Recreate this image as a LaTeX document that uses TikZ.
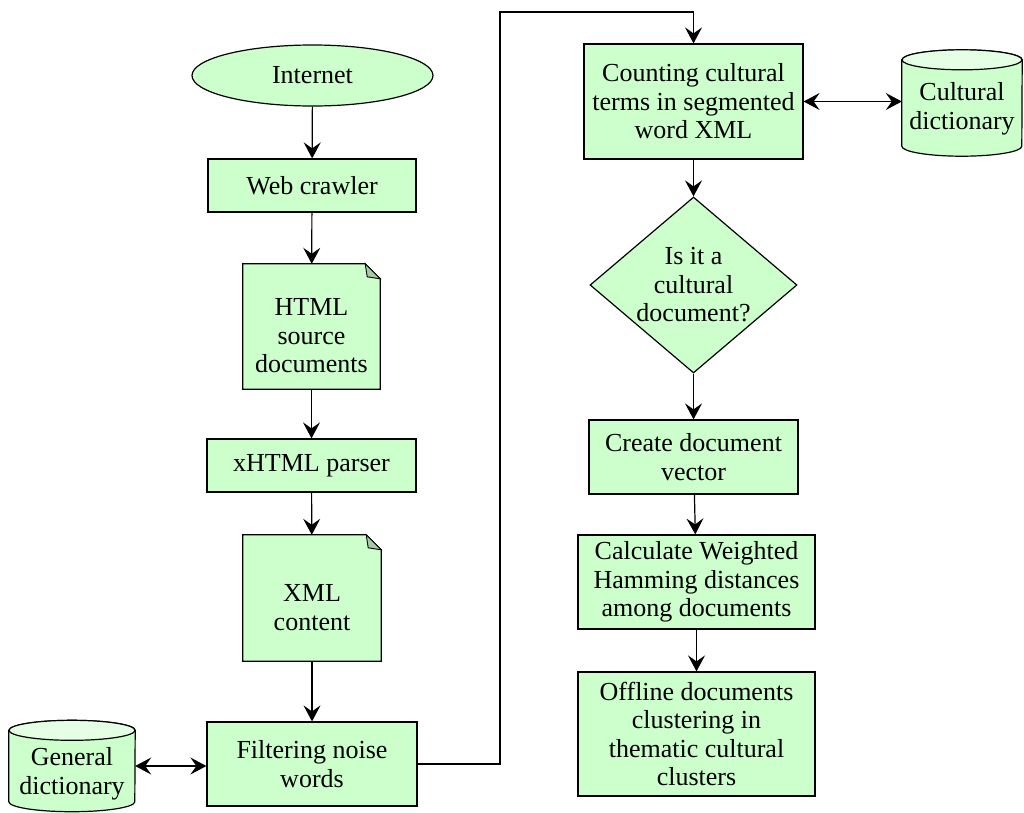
\documentclass[tikz,border=0pt]{standalone}
\usepackage{fontspec}
\setmainfont{Liberation Serif}
\usetikzlibrary{shapes.geometric,arrows.meta}
\definecolor{boxgreen}{HTML}{CCFFCC}
\definecolor{topgreen}{HTML}{E4FFE4}
\definecolor{foldgreen}{HTML}{A8C8A8}
\tikzset{
  txt/.style={font=\fontsize{26}{28.5}\selectfont, text=black, align=center, inner sep=0pt},
  procbox/.style={txt, rectangle, draw=black, fill=boxgreen, line width=1.2pt},
  blank/.style={rectangle, inner sep=0pt},
  docshape/.style={draw=black, fill=boxgreen, line width=1.2pt},
  cylbody/.style={draw=black, fill=boxgreen, line width=1.2pt},
  cyltop/.style={draw=black, fill=topgreen, line width=1.2pt},
  tip/.tip={Stealth[length=16pt,width=17pt,inset=6pt]},
  flow/.style={draw=black, line width=1.2pt, -tip},
  biflow/.style={draw=black, line width=1.2pt, tip-tip},
}
\begin{document}
\begin{tikzpicture}[x=1pt,y=1pt]
\useasboundingbox (0,0) rectangle (1024,-812);

% left column
\node[txt, ellipse, draw=black, fill=boxgreen, line width=1.2pt, minimum width=241pt, minimum height=61pt] (inet) at (312.5,-75.5) {Internet};
\node[procbox, minimum width=208pt, minimum height=53pt] (web) at (312,-185.5) {Web crawler};

\node[blank, minimum width=137pt, minimum height=125pt] (html) at (311.5,-326.5) {};
\draw[docshape] (html.north west) -- ([xshift=-15pt]html.north east) -- ([yshift=-15pt]html.north east) -- (html.south east) -- (html.south west) -- cycle;
\draw[fill=foldgreen, draw=black, line width=0.9pt] ([xshift=-15pt]html.north east) -- ([xshift=-13pt,yshift=-13pt]html.north east) -- ([yshift=-15pt]html.north east) -- cycle;
\node[txt] (htmlT) at ([yshift=-9.5pt]html.center) {HTML\\source\\documents};

\node[procbox, minimum width=209pt, minimum height=53pt] (xhtml) at (311.5,-465.5) {xHTML parser};

\node[blank, minimum width=138pt, minimum height=126pt] (xml) at (312,-598) {};
\draw[docshape] (xml.north west) -- ([xshift=-15pt]xml.north east) -- ([yshift=-15pt]xml.north east) -- (xml.south east) -- (xml.south west) -- cycle;
\draw[fill=foldgreen, draw=black, line width=0.9pt] ([xshift=-15pt]xml.north east) -- ([xshift=-13pt,yshift=-13pt]xml.north east) -- ([yshift=-15pt]xml.north east) -- cycle;
\node[txt] (xmlT) at ([yshift=-9.5pt]xml.center) {XML\\content};

\node[procbox, minimum width=210pt, minimum height=84pt] (filt) at (312,-764) {Filtering noise\\words};

% general dictionary cylinder
\node[blank, minimum width=126pt, minimum height=91pt] (gd) at (72,-766) {};
\draw[cylbody] ([yshift=-10pt]gd.north west) -- ([yshift=10pt]gd.south west) arc[start angle=180,end angle=360,x radius=63pt,y radius=10pt] -- ([yshift=-10pt]gd.north east) arc[start angle=0,end angle=180,x radius=63pt,y radius=10pt] -- cycle;
\draw[cyltop] ([yshift=-10pt]gd.north) ellipse[x radius=63pt,y radius=10pt];
\node[txt] (gdT) at ([yshift=-8pt]gd.center) {General\\dictionary};

% right column
\node[procbox, minimum width=219pt, minimum height=115pt] (cc) at (693.5,-101.5) {Counting cultural\\terms in segmented\\word XML};

\node[blank, minimum width=120pt, minimum height=106pt] (cd) at (962,-103) {};
\draw[cylbody] ([yshift=-10pt]cd.north west) -- ([yshift=10pt]cd.south west) arc[start angle=180,end angle=360,x radius=60pt,y radius=10pt] -- ([yshift=-10pt]cd.north east) arc[start angle=0,end angle=180,x radius=60pt,y radius=10pt] -- cycle;
\draw[cyltop] ([yshift=-10pt]cd.north) ellipse[x radius=60pt,y radius=10pt];
\node[txt] (cdT) at ([yshift=-6pt]cd.center) {Cultural\\dictionary};

\node[diamond, draw=black, fill=boxgreen, line width=1.2pt, inner sep=0pt, minimum width=207pt, minimum height=176pt] (dia) at (693.5,-285) {};
\node[txt] (diaT) at (dia.center) {Is it a\\cultural\\document?};

\node[procbox, minimum width=209pt, minimum height=74pt] (cdv) at (693.5,-457) {Create document\\vector};
\node[procbox, minimum width=237pt, minimum height=94pt] (calc) at (696.5,-582) {Calculate Weighted\\Hamming distances\\among documents};
\node[procbox, minimum width=237pt, minimum height=124pt] (off) at (696.5,-734) {Offline documents\\clustering in\\thematic cultural\\clusters};

% connectors
\draw[flow] (inet) -- (web);
\draw[flow] (web) -- (html);
\draw[flow] (html) -- (xhtml);
\draw[flow] (xhtml) -- (xml);
\draw[flow] (xml) -- (filt);
\draw[biflow] (gd.east) -- (gd.east -| filt.west);
\coordinate (c1) at (500,-12);
\draw[flow] (filt.east) -| (c1) -| (cc.north);
\draw[biflow] (cc.east) -- (cc.east -| cd.west);
\draw[flow] (cc) -- (dia);
\draw[flow] (dia) -- (cdv);
\draw[flow] (cdv) -- (calc);
\draw[flow] (calc) -- (off);
\end{tikzpicture}
\end{document}
